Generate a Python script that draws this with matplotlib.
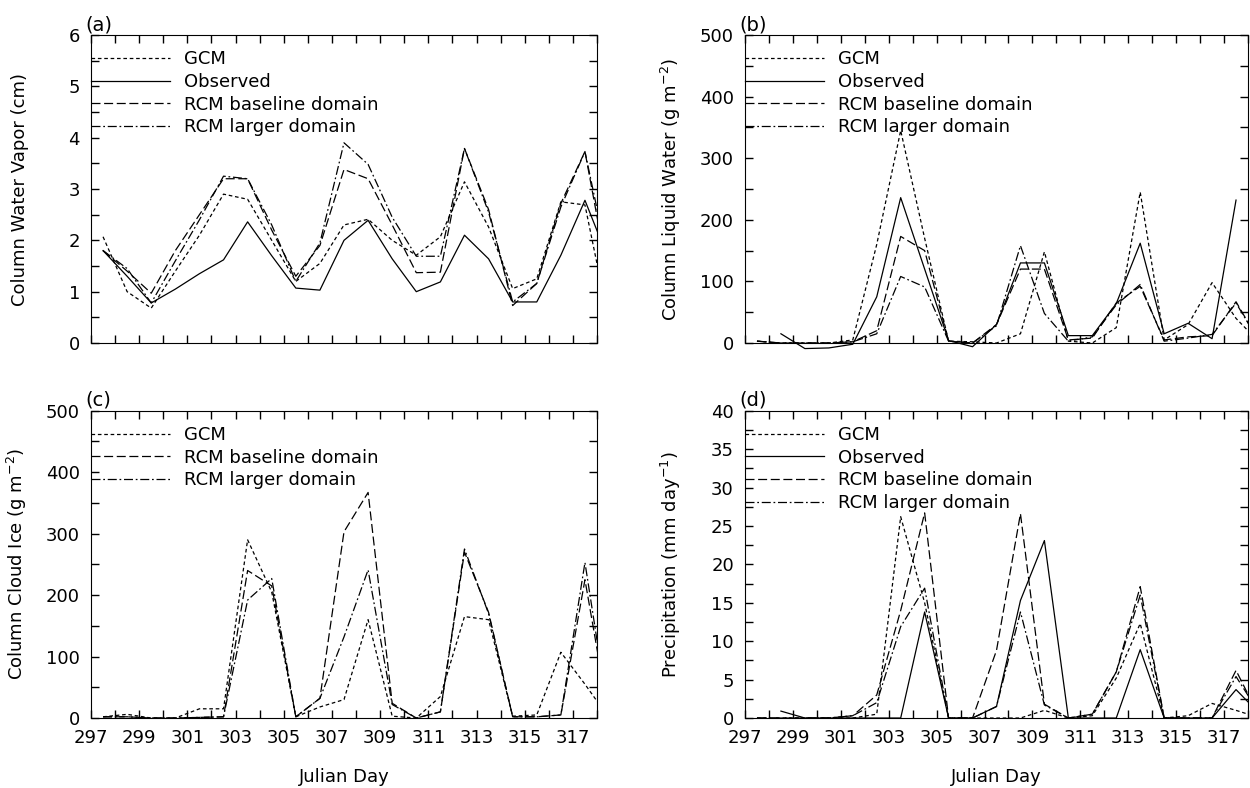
import numpy as np
import matplotlib
matplotlib.use("Agg")
import matplotlib.pyplot as plt
from matplotlib.patches import Rectangle

plt.rcParams['font.family'] = ['DejaVu Sans']

# days (values are plotted at mid-day)
days = np.arange(297, 319) + 0.5
nan = np.nan

# (a) column water vapor (cm)
wv_gcm = [2.07, 1.0, 0.68, 1.4, 2.1, 2.9, 2.8, 2.0, 1.2, 1.55, 2.3, 2.41, 2.0, 1.71, 2.07, 3.14, 2.26, 1.06, 1.25, 2.75, 2.69, 0.4]
wv_obs = [1.8, 1.3, 0.78, 1.05, 1.35, 1.62, 2.36, 1.7, 1.07, 1.03, 2.0, 2.39, 1.64, 1.0, 1.19, 2.1, 1.64, 0.8, 0.8, 1.71, 2.78, 1.6]
wv_base = [1.8, 1.4, 0.97, 1.8, 2.5, 3.2, 3.2, 2.2, 1.3, 1.9, 3.38, 3.2, 2.3, 1.37, 1.38, 3.79, 2.6, 0.73, 1.16, 2.72, 3.73, 1.2]
wv_large = [1.8, 1.45, 0.78, 1.6, 2.4, 3.25, 3.2, 2.3, 1.2, 1.95, 3.9, 3.48, 2.45, 1.69, 1.69, 3.79, 2.55, 0.8, 1.16, 2.65, 3.73, 1.5]

# (b) column liquid water (g m-2)
lw_gcm = [3, 0, 0, 0, 5, 160, 345, 170, 3, 2, 0, 15, 148, 3, 0, 25, 245, 5, 30, 98, 40, 0]
lw_obs = [nan, 15, -9, -8, -2, 75, 236, 120, 4, -6, 30, 130, 130, 12, 12, 64, 162, 15, 32, 7, 232, nan]
lw_base = [3, 0, 0, 0, 2, 20, 173, 150, 3, 0, 30, 120, 120, 5, 8, 65, 92, 5, 10, 12, 67, 0]
lw_large = [3, 0, 0, 0, 2, 15, 108, 91, 3, 0, 28, 158, 48, 3, 10, 62, 95, 3, 8, 14, 65, 0]

# (c) column cloud ice (g m-2)
ci_gcm = [2, 6, 0, 0, 15, 15, 290, 205, 2, 18, 30, 160, 3, 0, 35, 165, 160, 3, 5, 107, 55, 0]
ci_base = [2, 2, 0, 0, 1, 2, 240, 215, 2, 32, 303, 367, 24, 0, 10, 270, 172, 2, 2, 5, 225, 0]
ci_large = [2, 2, 0, 0, 1, 2, 192, 227, 2, 32, 132, 241, 22, 0, 10, 275, 170, 2, 2, 5, 253, 0]

# (d) precipitation (mm/day)
pr_gcm = [0, 0, 0, 0, 0, 0.5, 26.2, 15, 0, 0, 0, 0, 1.0, 0, 0.3, 5.2, 12.3, 0, 0.3, 1.9, 1.0, 0]
pr_obs = [nan, 0.9, 0, 0, 0, 0, 0, 13.8, 0, 0, 1.5, 15.3, 23.1, 0, 0, 0, 8.9, 0, 0, 0, 3.7, 0.5]
pr_base = [0, 0, 0, 0, 0.3, 3, 14, 26.7, 0, 0, 8.8, 26.6, 1.8, 0, 0.5, 6.0, 17.1, 0, 0, 0, 6.2, 0]
pr_large = [0, 0, 0, 0, 0.3, 2, 11.9, 16.9, 0, 0, 1.5, 13.8, 1.7, 0, 0.5, 6.0, 16.0, 0, 0, 0, 5.4, 0.5]

styles = {
    "GCM": (0, (2.9, 2.2)),
    "Observed": "-",
    "RCM baseline domain": (0, (7.2, 2.9)),
    "RCM larger domain": (0, (7.2, 2.2, 1.4, 2.2)),
}

fs = 13

fig = plt.figure(figsize=(12.5, 7.88), dpi=100)
ax_a = fig.add_axes([0.0728, 0.5647, 0.4048, 0.3909])
ax_b = fig.add_axes([0.596, 0.5647, 0.4024, 0.3909])
ax_c = fig.add_axes([0.0728, 0.0888, 0.4048, 0.3900])
ax_d = fig.add_axes([0.596, 0.0888, 0.4024, 0.3900])


def panel(ax, series, ymax, ymajor, yminor, ylabel, tag, bottom):
    handles = []
    # let lines run a little below the zero line, but clip at the right edge
    clip = Rectangle((0, -0.1), 1, 1.2, transform=ax.transAxes, visible=False)
    ax.add_patch(clip)
    for name, vals in series:
        ln, = ax.plot(days, vals, color="black", lw=0.9, linestyle=styles[name], label=name)
        ln.set_clip_path(clip)
        handles.append(ln)
    ax.set_xlim(297, 318)
    ax.set_ylim(0, ymax)
    ax.set_xticks(range(297, 319, 2))
    ax.set_xticks(range(297, 319), minor=True)
    ax.set_yticks(np.arange(0, ymax + 0.01, ymajor))
    ax.set_yticks(np.arange(0, ymax + 0.01, yminor), minor=True)
    ax.tick_params(which="both", direction="in", top=True, right=True, length=6, width=1,
                   labelsize=fs, pad=8)
    if not bottom:
        ax.tick_params(labelbottom=False)
    else:
        ax.set_xlabel("Julian Day", fontsize=fs, labelpad=15)
    ax.set_ylabel(ylabel, fontsize=fs)
    ax.yaxis.set_label_coords(-0.123, 0.5)
    ax.text(-0.012, 1.003, tag, transform=ax.transAxes, fontsize=fs + 1, ha="left", va="bottom")
    ax.legend(handles=handles, loc="upper left", bbox_to_anchor=(0, 0.95), frameon=False,
              borderpad=0, borderaxespad=0, handlelength=4.4, handletextpad=0.75,
              labelspacing=0.26, fontsize=fs)


panel(ax_a, [("GCM", wv_gcm), ("Observed", wv_obs), ("RCM baseline domain", wv_base),
             ("RCM larger domain", wv_large)],
      6, 1, 0.5, "Column Water Vapor (cm)", "(a)", False)
panel(ax_b, [("GCM", lw_gcm), ("Observed", lw_obs), ("RCM baseline domain", lw_base),
             ("RCM larger domain", lw_large)],
      500, 100, 50, "Column Liquid Water (g m$^{-2}$)", "(b)", False)
panel(ax_c, [("GCM", ci_gcm), ("RCM baseline domain", ci_base), ("RCM larger domain", ci_large)],
      500, 100, 50, "Column Cloud Ice (g m$^{-2}$)", "(c)", True)
panel(ax_d, [("GCM", pr_gcm), ("Observed", pr_obs), ("RCM baseline domain", pr_base),
             ("RCM larger domain", pr_large)],
      40, 5, 2.5, "Precipitation (mm day$^{-1}$)", "(d)", True)

fig.savefig("out.png", dpi=100)
